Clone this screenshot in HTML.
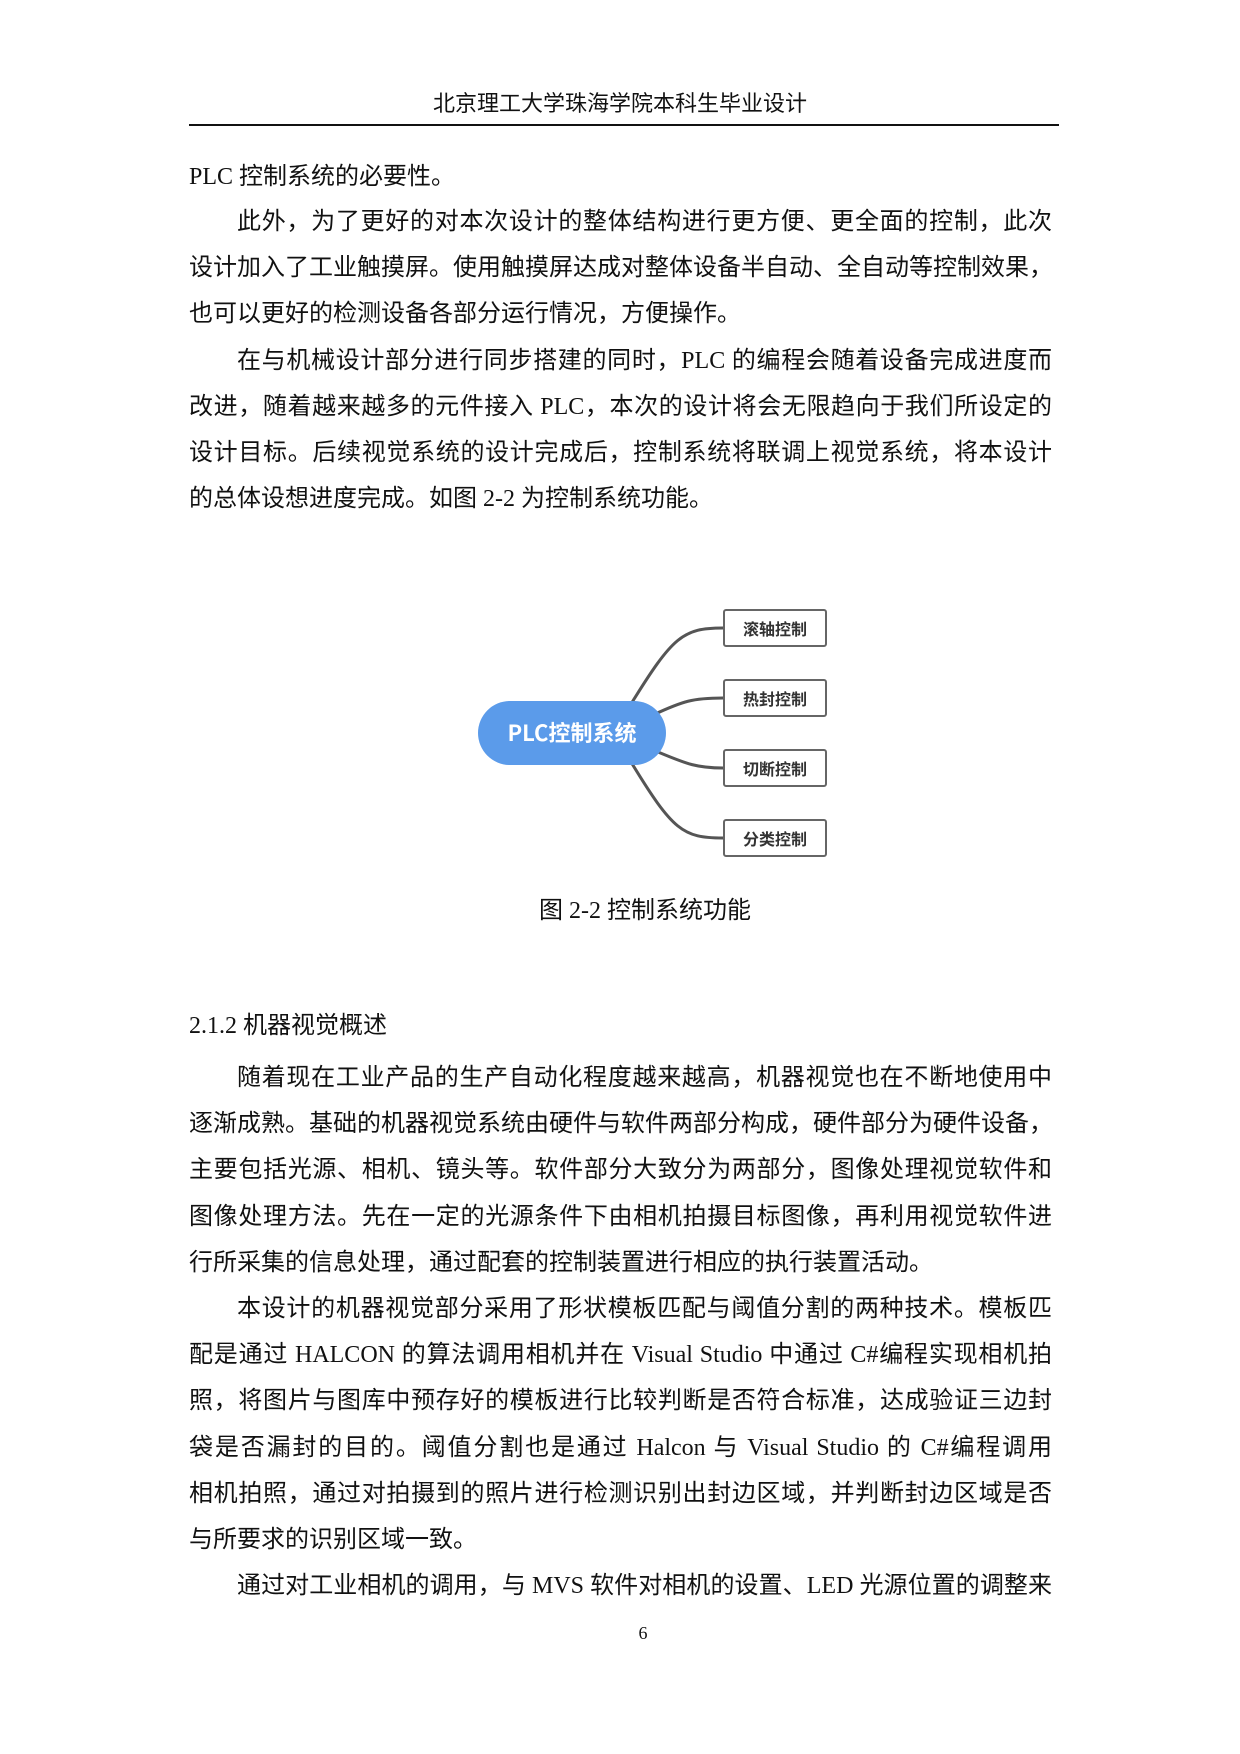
<!DOCTYPE html>
<html><head><meta charset="utf-8"><style>
html,body{margin:0;padding:0;background:#fff;}
#p{position:relative;width:1240px;height:1754px;overflow:hidden;font-family:"Liberation Serif","Noto Sans CJK SC",serif;color:#111;}
.l{position:absolute;left:189px;width:863px;font-size:24px;line-height:26px;white-space:nowrap;}
.j{text-align:justify;text-align-last:justify;}
.i{padding-left:48px;box-sizing:border-box;}
.box{position:absolute;left:723px;width:104px;height:38px;border:2px solid #666;border-radius:3px;box-sizing:border-box;font-family:"Noto Sans CJK SC",sans-serif;font-weight:bold;font-size:16px;line-height:34px;text-align:center;color:#333;background:#fff;}
</style></head><body><div id="p">
<div style="position:absolute;top:86px;left:0;width:1240px;text-align:center;font-size:22px;font-family:'Noto Sans CJK SC',sans-serif;">北京理工大学珠海学院本科生毕业设计</div>
<div style="position:absolute;top:124px;left:189px;width:870px;height:2px;background:#111;"></div>

<div class="l" style="top:164px">PLC 控制系统的必要性。</div>
<div class="l j i" style="top:209px">此外，为了更好的对本次设计的整体结构进行更方便、更全面的控制，此次</div>
<div class="l j" style="top:255px">设计加入了工业触摸屏。使用触摸屏达成对整体设备半自动、全自动等控制效果，</div>
<div class="l" style="top:301px">也可以更好的检测设备各部分运行情况，方便操作。</div>
<div class="l j i" style="top:348px">在与机械设计部分进行同步搭建的同时，PLC 的编程会随着设备完成进度而</div>
<div class="l j" style="top:394px">改进，随着越来越多的元件接入 PLC，本次的设计将会无限趋向于我们所设定的</div>
<div class="l j" style="top:440px">设计目标。后续视觉系统的设计完成后，控制系统将联调上视觉系统，将本设计</div>
<div class="l" style="top:486px">的总体设想进度完成。如图 2-2 为控制系统功能。</div>

<svg style="position:absolute;left:0;top:-4px" width="1240" height="1000">
<g fill="none" stroke="#555" stroke-width="3">
<path d="M631,708 C673,640 683,632 723,632"/>
<path d="M653,719 C683,705 693,702 723,702"/>
<path d="M653,754 C683,766 693,772 723,772"/>
<path d="M631,766 C673,835 683,842 723,842"/>
</g>
<rect x="478" y="705" width="188" height="64" rx="32" fill="#5b9bea"/>
<text x="572" y="745" text-anchor="middle" fill="#fff" font-family="Noto Sans CJK SC,sans-serif" font-weight="bold" font-size="22">PLC控制系统</text>
</svg>
<div class="box" style="top:609px">滚轴控制</div>
<div class="box" style="top:679px">热封控制</div>
<div class="box" style="top:749px">切断控制</div>
<div class="box" style="top:819px">分类控制</div>

<div style="position:absolute;top:890px;left:0;width:1290px;text-align:center;font-size:24px;">图 2-2 控制系统功能</div>

<div class="l" style="top:1013px">2.1.2 机器视觉概述</div>
<div class="l j i" style="top:1065px">随着现在工业产品的生产自动化程度越来越高，机器视觉也在不断地使用中</div>
<div class="l j" style="top:1111px">逐渐成熟。基础的机器视觉系统由硬件与软件两部分构成，硬件部分为硬件设备，</div>
<div class="l j" style="top:1157px">主要包括光源、相机、镜头等。软件部分大致分为两部分，图像处理视觉软件和</div>
<div class="l j" style="top:1204px">图像处理方法。先在一定的光源条件下由相机拍摄目标图像，再利用视觉软件进</div>
<div class="l" style="top:1250px">行所采集的信息处理，通过配套的控制装置进行相应的执行装置活动。</div>
<div class="l j i" style="top:1296px">本设计的机器视觉部分采用了形状模板匹配与阈值分割的两种技术。模板匹</div>
<div class="l j" style="top:1342px">配是通过 HALCON 的算法调用相机并在 Visual Studio 中通过 C#编程实现相机拍</div>
<div class="l j" style="top:1388px">照，将图片与图库中预存好的模板进行比较判断是否符合标准，达成验证三边封</div>
<div class="l j" style="top:1435px">袋是否漏封的目的。阈值分割也是通过 Halcon 与 Visual Studio 的 C#编程调用</div>
<div class="l j" style="top:1481px">相机拍照，通过对拍摄到的照片进行检测识别出封边区域，并判断封边区域是否</div>
<div class="l" style="top:1527px">与所要求的识别区域一致。</div>
<div class="l j i" style="top:1573px">通过对工业相机的调用，与 MVS 软件对相机的设置、LED 光源位置的调整来</div>

<div style="position:absolute;top:1623px;left:0;width:1286px;text-align:center;font-size:18px;font-family:'Liberation Serif',serif;">6</div>
</div></body></html>
